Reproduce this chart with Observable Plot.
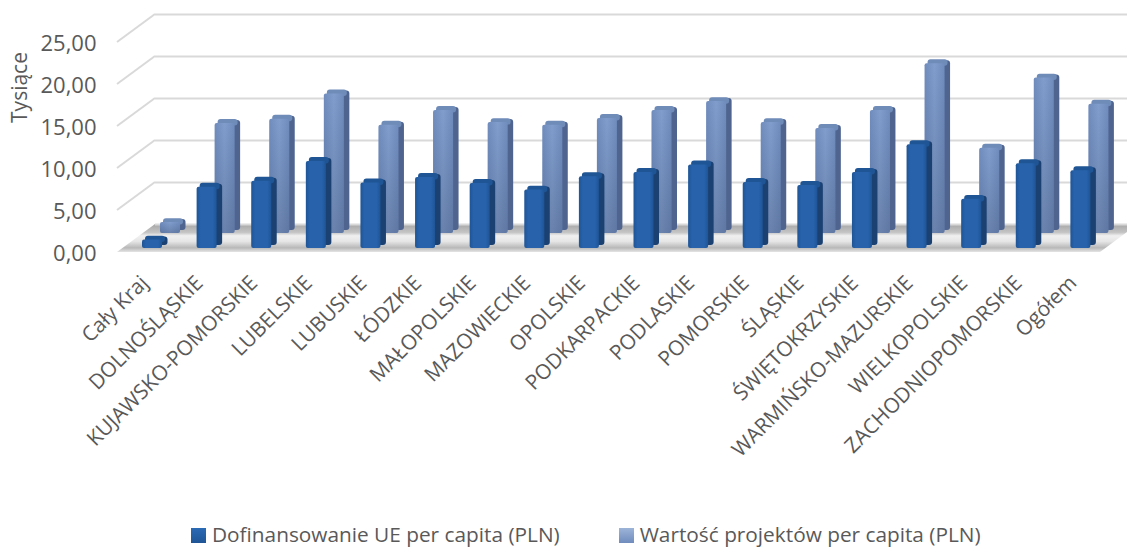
<!DOCTYPE html>
<html><head><meta charset="utf-8">
<script src="https://cdn.jsdelivr.net/npm/d3@7"></script>
<script src="https://cdn.jsdelivr.net/npm/@observablehq/plot@0.6"></script>
<style>
html,body{margin:0;padding:0;background:#fff;overflow:hidden}
#legend{height:28px;display:flex;justify-content:flex-start;gap:59px;font:20.8px "Open Sans",sans-serif;color:#595959;line-height:36px;padding-left:191px;white-space:nowrap}
#legend span.i{display:inline-flex;align-items:center;gap:6px}
#legend i{display:inline-block;width:15px;height:15px;margin-top:3px}
</style></head><body>
<div id="chart"></div>
<div id="legend"></div>
<script>
const categories = ["Cały Kraj","DOLNOŚLĄSKIE","KUJAWSKO-POMORSKIE","LUBELSKIE","LUBUSKIE","ŁÓDZKIE","MAŁOPOLSKIE","MAZOWIECKIE","OPOLSKIE","PODKARPACKIE","PODLASKIE","POMORSKIE","ŚLĄSKIE","ŚWIĘTOKRZYSKIE","WARMIŃSKO-MAZURSKIE","WIELKOPOLSKIE","ZACHODNIOPOMORSKIE","Ogółem"];
const dofinansowanie = [1.0,7.3,8.0,10.35,7.8,8.45,7.75,6.95,8.55,9.05,9.95,7.85,7.5,9.05,12.35,5.85,10.1,9.25];
const wartosc = [1.3,13.1,13.6,16.6,12.9,14.65,13.2,12.9,13.7,14.65,15.7,13.2,12.5,14.65,20.2,10.15,18.5,15.4];
const yTicks = [0,5,10,15,20,25];
const seriesNames = ["Dofinansowanie UE per capita (PLN)","Wartość projektów per capita (PLN)"];

const depthX = 38, depthY = -28;
const rows = s => categories.map((c,i)=>({c, v:s[i]}));
const defs = () => {
  const d = d3.create("svg:defs");
  d.html(`
  <linearGradient id="fFace" x1="0" x2="1" y1="0" y2="0"><stop offset="0" stop-color="#1f5596"/><stop offset=".2" stop-color="#2762ab"/><stop offset=".8" stop-color="#2762ab"/><stop offset="1" stop-color="#1f5596"/></linearGradient>
  <linearGradient id="bFace" x1="0" x2="1" y1="0" y2="0"><stop offset="0" stop-color="#6f8cbd"/><stop offset=".5" stop-color="#809dcc"/><stop offset="1" stop-color="#6f8cbd"/></linearGradient>
  <linearGradient id="bShade" x1="0" x2="0" y1="0" y2="1"><stop offset="0" stop-color="#3a4a6b" stop-opacity="0"/><stop offset="1" stop-color="#3a4a6b" stop-opacity=".32"/></linearGradient>
  <linearGradient id="floor" x1="0" x2="0" y1="0" y2="1"><stop offset="0" stop-color="#a6a6a6"/><stop offset=".3" stop-color="#c4c4c4"/><stop offset=".42" stop-color="#f0f0f0"/><stop offset=".62" stop-color="#e6e6e6"/><stop offset=".85" stop-color="#b8b8b8"/><stop offset="1" stop-color="#e4e4e4"/></linearGradient>`);
  return d.node();
};
const walls = (index, {y}, values, dim) => {
  const g = d3.create("svg:g");
  const x0 = dim.marginLeft, x1 = dim.width - dim.marginRight, y0 = y(0);
  g.append("path").attr("fill","url(#floor)")
    .attr("d",`M${x0},${y0}L${x0+depthX},${y0+depthY}L${x1+depthX},${y0+depthY}L${x1},${y0}Z`);
  for (const t of yTicks.slice(1)) g.append("line")
    .attr("x1",x0).attr("y1",y(t)).attr("x2",x0+depthX).attr("y2",y(t)+depthY)
    .attr("stroke","#d9d9d9").attr("stroke-width",2);
  return g.node();
};
const bar3d = (data, ox, oy, face, side, cap) => [
  Plot.barY(data,{x:"c",y:"v",dx:ox+5.5,dy:oy-3,insetLeft:19.5,insetRight:15.1,rx:3,fill:side}),
  Plot.rect(data,{x:"c",y1:d=>d.v-0.3,y2:d=>d.v+0.47,dx:ox+3,dy:oy,insetLeft:19.5,insetRight:15.1,rx:3,fill:cap}),
  Plot.barY(data,{x:"c",y:"v",dx:ox,dy:oy,insetLeft:19.5,insetRight:15.1,rx:2,fill:face})
];
const chart = Plot.plot({
  width:1127, height:520,
  marginLeft:117, marginRight:27, marginTop:42, marginBottom:268,
  x:{type:"band",domain:categories,padding:0,round:false,label:null},
  y:{domain:[0,25],label:null},
  marks:[
    defs,
    walls,
    Plot.ruleY(yTicks,{dx:depthX,dy:depthY,stroke:"#d9d9d9",strokeWidth:2}),
    ...bar3d(rows(wartosc),23.5,-19,"url(#bFace)","#4f6590","#6f8bb8"),
    Plot.barY(rows(wartosc),{x:"c",y:"v",dx:23.5,dy:-19,insetLeft:19.5,insetRight:15.1,rx:2,fill:"url(#bShade)"}),
    ...bar3d(rows(dofinansowanie),5.5,-4,"url(#fFace)","#1b4172","#1f5594"),
    Plot.axisY(yTicks,{anchor:"left",tickSize:0,tickPadding:21,dy:1.5,label:null,fontSize:22,fontFamily:"Open Sans",fill:"#595959",tickFormat:d=>d.toFixed(2).replace(".",",")}),
    Plot.axisX({anchor:"bottom",tickSize:0,tickPadding:27,label:null,tickRotate:-45,fontSize:20.8,fontFamily:"Open Sans",fill:"#595959"}),
    Plot.text(["Tysiące"],{frameAnchor:"top-left",textAnchor:"middle",lineAnchor:"middle",dx:-97,dy:45,rotate:-90,fontSize:21,fontFamily:"Open Sans",fill:"#595959"})
  ]
});
document.getElementById("chart").append(chart);
const lg = d3.select("#legend");
[["#1f5596","#2b6ab5"],["#6f8cbd","#9db4d8"]].forEach((c,i)=>{
  const s = lg.append("span").attr("class","i");
  s.append("i").style("background",`linear-gradient(180deg,${c[1]},${c[0]})`);
  s.append("span").text(seriesNames[i]);
});
</script>
</body></html>
